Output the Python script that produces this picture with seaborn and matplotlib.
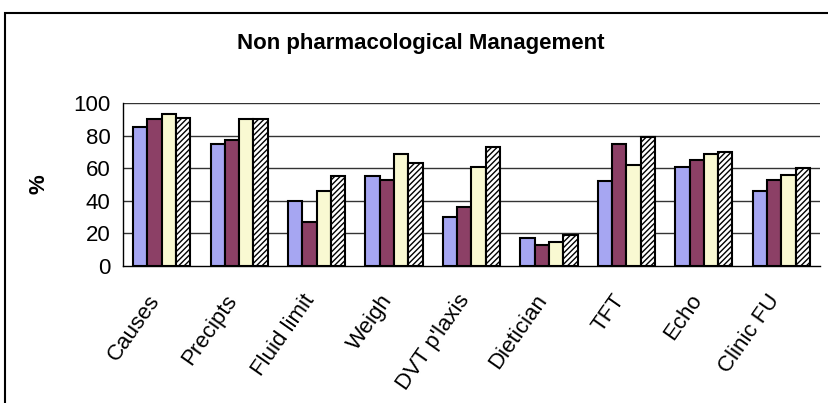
import pandas as pd
import seaborn as sns
import matplotlib.pyplot as plt
from matplotlib.patches import Rectangle
from matplotlib.transforms import ScaledTranslation

# values (%)
categories = ["Causes", "Precipts", "Fluid limit", "Weigh", "DVT p'laxis",
              "Dietician", "TFT", "Echo", "Clinic FU"]
series_names = ["S1", "S2", "S3", "S4"]
s1 = [85, 75, 40, 55, 30, 17, 52, 61, 46]
s2 = [90, 77, 27, 53, 36, 13, 75, 65, 53]
s3 = [93, 90, 46, 69, 61, 15, 62, 69, 56]
s4 = [91, 90, 55, 63, 73, 19, 79, 70, 60]
y_ticks = [0, 20, 40, 60, 80, 100]

rows = []
for name, vals in zip(series_names, [s1, s2, s3, s4]):
    for cat, v in zip(categories, vals):
        rows.append({"cat": cat, "series": name, "value": v})
df = pd.DataFrame(rows)

sns.set_style("white")
plt.rcParams["font.family"] = ["Liberation Sans", "DejaVu Sans"]
plt.rcParams["hatch.linewidth"] = 1.0
for key in ["text.color", "axes.labelcolor", "xtick.color", "ytick.color"]:
    plt.rcParams[key] = "black"

fig = plt.figure(figsize=(8.29, 4.03), dpi=100)
ax = fig.add_axes([123 / 829, 1 - 266 / 403, (820 - 123) / 829, (266 - 103) / 403])

palette = ["#9999FF", "#993366", "#FFFFCC", "#FFFFFF"]
sns.barplot(data=df, x="cat", y="value", hue="series", palette=palette,
            order=categories, hue_order=series_names, width=0.74,
            edgecolor="black", linewidth=1.5, legend=False, ax=ax)

# hatch the fourth series
for bar in ax.containers[3]:
    bar.set_hatch("//////")

ax.set_ylim(0, 100)
ax.set_xlim(-0.5, len(categories) - 0.5)
ax.set_yticks(y_ticks)
ax.set_yticklabels([str(t) for t in y_ticks], fontsize=16)
for t in y_ticks[1:]:
    ax.axhline(t, color="#333333", lw=1.0, zorder=0)

ax.set_xticks(range(len(categories)))
ax.set_xticklabels(categories, rotation=55, ha="right", va="center",
                   rotation_mode="anchor", fontsize=16)
ax.tick_params(axis="x", length=0, pad=22)
shift = ScaledTranslation(-6 / 100, 0, fig.dpi_scale_trans)
for lab in ax.get_xticklabels():
    lab.set_transform(lab.get_transform() + shift)
# category boundary ticks
ax.set_xticks([i - 0.5 for i in range(len(categories) + 1)], minor=True)
ax.tick_params(axis="x", which="minor", direction="out", length=5, width=1, color="black")
ax.tick_params(axis="y", direction="out", length=5, width=1, color="black", pad=4)

ax.set_xlabel("")
ax.set_ylabel("%", fontsize=16, fontweight="bold", labelpad=17)
for side in ["top", "right"]:
    ax.spines[side].set_visible(False)
for side in ["left", "bottom"]:
    ax.spines[side].set_color("black")
    ax.spines[side].set_linewidth(1.0)

fig.text(421 / 829, 1 - 44 / 403, "Non pharmacological Management",
         ha="center", va="center", fontsize=16, fontweight="bold")

# chart area frame
fig.patches.append(Rectangle((5 / 829, -0.1), 1.0, 1 - 13 / 403 + 0.1,
                             transform=fig.transFigure, fill=False,
                             edgecolor="black", lw=1.5))

fig.savefig("out.png", dpi=100)
